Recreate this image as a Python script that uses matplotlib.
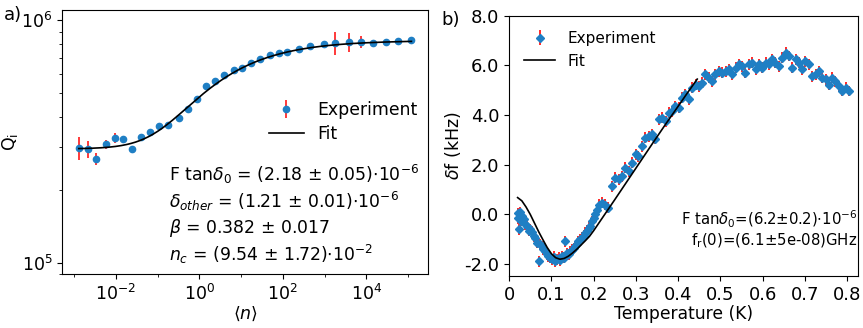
import matplotlib
matplotlib.use("Agg")
import matplotlib.pyplot as plt
import numpy as np
from matplotlib.ticker import FixedLocator, FixedFormatter, FormatStrFormatter, LogLocator, NullFormatter

# ---- panel a: Qi vs photon number ----
n_log = [-2.89, -2.68, -2.47, -2.24, -2.02, -1.82, -1.61, -1.39, -1.18, -0.96,
         -0.76, -0.50, -0.28, -0.06, 0.16, 0.38, 0.59, 0.82, 1.03, 1.24,
         1.46, 1.68, 1.90, 2.10, 2.38, 2.66, 2.98, 3.26, 3.58, 3.87,
         4.16, 4.46, 4.75, 5.08]
q_i = [2.98e5, 2.95e5, 2.69e5, 3.08e5, 3.28e5, 3.23e5, 2.95e5, 3.31e5, 3.47e5, 3.67e5,
       3.69e5, 3.97e5, 4.32e5, 4.76e5, 5.36e5, 5.62e5, 5.93e5, 6.22e5, 6.38e5, 6.65e5,
       6.91e5, 7.17e5, 7.31e5, 7.40e5, 7.64e5, 7.84e5, 7.96e5, 8.09e5, 8.14e5, 8.17e5,
       8.09e5, 8.17e5, 8.22e5, 8.27e5]
q_err_frac = [0.11, 0.08, 0.06, 0.045, 0.045, 0.035, 0.03, 0.025, 0.025, 0.025,
              0.025, 0.025, 0.025, 0.025, 0.025, 0.02, 0.02, 0.02, 0.02, 0.02,
              0.02, 0.02, 0.02, 0.02, 0.02, 0.02, 0.03, 0.11, 0.09, 0.06,
              0.03, 0.03, 0.03, 0.03]

# fit parameters shown in the annotation
F_TAN_D0 = 2.18e-6
D_OTHER = 1.21e-6
BETA = 0.382
N_C = 9.54e-2

# ---- panel b: frequency shift vs temperature ----
temp_k = [0.020, 0.022, 0.024, 0.026, 0.028, 0.030, 0.034, 0.038, 0.042, 0.046,
          0.050, 0.054, 0.058, 0.062, 0.066, 0.071, 0.074, 0.077, 0.081, 0.085,
          0.089, 0.093, 0.097, 0.101, 0.105, 0.109, 0.113, 0.117, 0.121, 0.125,
          0.129, 0.133, 0.137, 0.141, 0.145, 0.149, 0.153, 0.156, 0.160, 0.164,
          0.168, 0.172, 0.176, 0.180, 0.184, 0.188, 0.192, 0.196, 0.200, 0.204,
          0.208, 0.212, 0.220, 0.227, 0.235, 0.243, 0.251, 0.259, 0.267, 0.275,
          0.283, 0.291, 0.299, 0.306, 0.314, 0.322, 0.330, 0.338, 0.346, 0.354,
          0.362, 0.370, 0.378, 0.385, 0.393, 0.401, 0.409, 0.417, 0.425, 0.433,
          0.441, 0.449, 0.457, 0.464, 0.472, 0.480, 0.488, 0.496, 0.504, 0.512,
          0.520, 0.528, 0.536, 0.543, 0.551, 0.559, 0.567, 0.575, 0.583, 0.591,
          0.599, 0.607, 0.615, 0.622, 0.630, 0.638, 0.646, 0.654, 0.662, 0.670,
          0.678, 0.686, 0.694, 0.701, 0.709, 0.717, 0.725, 0.733, 0.741, 0.749,
          0.757, 0.765, 0.772, 0.780, 0.788, 0.796, 0.804]
df_khz = [0.05, -0.15, -0.60, 0.10, -0.25, -0.05, -0.20, -0.40, -0.47, -0.65,
          -0.60, -0.70, -0.87, -0.95, -1.14, -1.88, -1.20, -1.27, -1.40, -1.48,
          -1.60, -1.68, -1.75, -1.81, -1.70, -1.88, -1.80, -1.74, -1.85, -1.68,
          -1.75, -1.07, -1.55, -1.61, -1.50, -1.41, -1.35, -1.27, -1.20, -1.07,
          -1.00, -0.94, -0.85, -0.74, -0.65, -0.54, -0.45, -0.27, -0.15, 0.00,
          0.20, 0.40, 0.47, 0.40, 0.27, 1.14, 1.48, 1.41, 1.54, 1.88,
          1.74, 2.08, 2.42, 2.35, 2.75, 3.09, 3.15, 3.22, 3.05, 3.83,
          3.89, 3.76, 4.09, 4.16, 4.36, 4.30, 4.70, 4.83, 4.63, 5.10,
          5.23, 5.17, 5.30, 5.64, 5.50, 5.37, 5.64, 5.77, 5.70, 5.77,
          5.84, 5.64, 5.91, 6.04, 5.97, 5.70, 6.04, 6.11, 5.84, 6.04,
          5.91, 6.11, 6.04, 6.24, 6.11, 5.97, 6.31, 6.51, 6.38, 5.91,
          6.24, 6.11, 5.84, 6.17, 6.04, 5.57, 5.64, 5.77, 5.50, 5.44,
          5.23, 5.50, 5.37, 5.17, 4.97, 5.10, 4.97]
DF_ERR = 0.22

fit_temp_k = [0.020, 0.030, 0.040, 0.050, 0.060, 0.070, 0.080, 0.090, 0.100, 0.110,
              0.120, 0.130, 0.140, 0.150, 0.160, 0.170, 0.180, 0.190, 0.200, 0.220,
              0.250, 0.280, 0.310, 0.340, 0.370, 0.400, 0.420, 0.445]
fit_df_khz = [0.68, 0.55, 0.30, 0.00, -0.35, -0.70, -1.02, -1.33, -1.58, -1.74,
              -1.80, -1.77, -1.68, -1.55, -1.40, -1.23, -1.06, -0.88, -0.65, -0.15,
              0.60, 1.36, 2.12, 2.88, 3.63, 4.36, 4.85, 5.45]

x_tick_vals = [0, 0.1, 0.2, 0.3, 0.4, 0.5, 0.6, 0.7, 0.8]
x_tick_labels = ["0", "0.1", "0.2", "0.3", "0.4", "0.5", "0.6", "0.7", "0.8"]

MARKER_C = "#1f7fc4"
ERR_C = "#ff2a2a"

fig = plt.figure(figsize=(8.63, 3.28), dpi=100)
ax_a = fig.add_axes([0.072, 0.165, 0.424, 0.805])
ax_b = fig.add_axes([0.590, 0.159, 0.404, 0.793])

# panel a
n = 10.0 ** np.array(n_log)
q = np.array(q_i)
eb_a = ax_a.errorbar(n, q, yerr=q * np.array(q_err_frac), fmt="o", ms=4.5,
                     color=MARKER_C, ecolor=ERR_C, elinewidth=1.3, label="Experiment", zorder=2)
n_fit = np.logspace(n_log[0], n_log[-1], 300)
q_fit = 1.0 / (F_TAN_D0 / (1 + n_fit / N_C) ** BETA + D_OTHER)
fit_a, = ax_a.plot(n_fit, q_fit, color="black", lw=1.2, label="Fit", zorder=3)
ax_a.set_xscale("log")
ax_a.set_yscale("log")
ax_a.set_ylim(9.0e4, 1.106e6)
ax_a.xaxis.set_major_locator(FixedLocator([1e-2, 1e0, 1e2, 1e4]))
ax_a.xaxis.set_minor_locator(LogLocator(base=10, subs=(1.0,), numticks=20))
ax_a.xaxis.set_minor_formatter(NullFormatter())
ax_a.yaxis.set_minor_formatter(NullFormatter())
ax_a.tick_params(labelsize=12.5)
ax_a.set_xlabel(r"$\langle n \rangle$", fontsize=12.5, labelpad=1)
ax_a.set_ylabel(r"Q$_\mathregular{i}$", fontsize=12.5, labelpad=1)
ax_a.legend([eb_a, fit_a], ["Experiment", "Fit"], loc="center right",
            bbox_to_anchor=(1.0, 0.575), frameon=False,
            fontsize=12.4, handlelength=2.0, borderaxespad=0.2, labelspacing=0.35)
fit_lines = [
    r"F tan$\delta_0$ = (2.18 $\pm$ 0.05)$\cdot$10$^{-6}$",
    r"$\delta_{other}$ = (1.21 $\pm$ 0.01)$\cdot$10$^{-6}$",
    r"$\beta$ = 0.382 $\pm$ 0.017",
    r"$n_c$ = (9.54 $\pm$ 1.72)$\cdot$10$^{-2}$",
]
for i, line in enumerate(fit_lines):
    ax_a.text(0.292, 0.375 - i * 0.101, line, transform=ax_a.transAxes,
              fontsize=12.4, va="center", ha="left")

# panel b
eb_b = ax_b.errorbar(temp_k, df_khz, yerr=DF_ERR, fmt="D", ms=4,
                     color=MARKER_C, ecolor=ERR_C, elinewidth=1.4, label="Experiment", zorder=2)
fit_b, = ax_b.plot(fit_temp_k, fit_df_khz, color="black", lw=1.2, label="Fit", zorder=3)
ax_b.set_xlim(0, 0.825)
ax_b.set_ylim(-2.47, 8.0)
ax_b.xaxis.set_major_locator(FixedLocator(x_tick_vals))
ax_b.xaxis.set_major_formatter(FixedFormatter(x_tick_labels))
ax_b.yaxis.set_major_locator(FixedLocator([-2, 0, 2, 4, 6, 8]))
ax_b.yaxis.set_major_formatter(FormatStrFormatter("%.1f"))
ax_b.tick_params(labelsize=13)
ax_b.set_xlabel("Temperature (K)", fontsize=12.3, labelpad=1)
ax_b.set_ylabel(r"$\delta$f (kHz)", fontsize=12.5, labelpad=1)
ax_b.legend([eb_b, fit_b], ["Experiment", "Fit"], loc="upper left", fontsize=11,
            handlelength=2.0, frameon=False, borderaxespad=0.6)
ax_b.text(0.998, 0.215, r"F tan$\delta_0$=(6.2$\pm$0.2)$\cdot$10$^{-6}$",
          transform=ax_b.transAxes, fontsize=10.7, ha="right", va="center")
ax_b.text(0.998, 0.135, r"f$_\mathregular{r}$(0)=(6.1$\pm$5e-08)GHz",
          transform=ax_b.transAxes, fontsize=10.7, ha="right", va="center")

fig.text(0.004, 0.955, "a)", fontsize=13, ha="left", va="center")
fig.text(0.512, 0.94, "b)", fontsize=13, ha="left", va="center")

fig.savefig("out.png", dpi=100)
